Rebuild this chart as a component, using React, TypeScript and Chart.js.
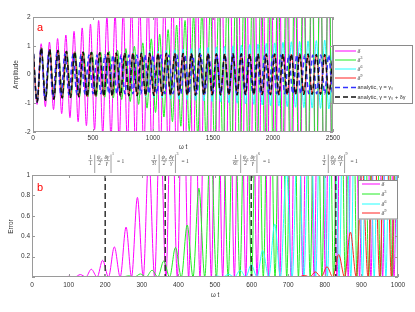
import React, { useEffect, useRef } from 'react';
import { Chart, registerables } from 'chart.js';

Chart.register(...registerables);

// ================= Panel a : amplitude vs ωt (extrema) =================
// times of successive extrema (ωt)
const T_A = [0, 35, 69, 104, 139, 174, 208, 243, 278, 312, 347, 382, 417, 451, 486, 521, 556, 590, 625, 660, 694, 729, 764, 799, 833, 868, 903, 938, 972, 1007, 1042, 1076, 1111, 1146, 1181, 1215, 1250, 1285, 1319, 1354, 1389, 1424, 1458, 1493, 1528, 1563, 1597, 1632, 1667, 1701, 1736, 1771, 1806, 1840, 1875, 1910, 1944, 1979, 2014, 2049, 2083, 2118, 2153, 2188, 2222, 2257, 2292, 2326, 2361, 2396, 2431, 2465, 2500];
const T_G = [0, 35, 70, 106, 141, 176, 211, 246, 282, 317, 352, 387, 422, 458, 493, 528, 563, 598, 634, 669, 704, 739, 774, 810, 845, 880, 915, 950, 986, 1021, 1056, 1091, 1126, 1162, 1197, 1232, 1267, 1302, 1338, 1373, 1408, 1443, 1478, 1514, 1549, 1584, 1619, 1654, 1690, 1725, 1760, 1795, 1830, 1866, 1901, 1936, 1971, 2006, 2042, 2077, 2112, 2147, 2182, 2218, 2253, 2288, 2323, 2358, 2394, 2429, 2464, 2499, 2534];
const T_M = [0, 34, 68, 103, 137, 171, 205, 239, 274, 308, 342, 376, 410, 445, 479, 513, 547, 581, 616, 650, 684, 718, 752, 787, 821, 855, 889, 923, 958, 992, 1026, 1060, 1094, 1129, 1163, 1197, 1231, 1265, 1300, 1334, 1368, 1402, 1436, 1471, 1505, 1539, 1573, 1607, 1642, 1676, 1710, 1744, 1778, 1813, 1847, 1881, 1915, 1949, 1984, 2018, 2052, 2086, 2120, 2155, 2189, 2223, 2257, 2291, 2326, 2360, 2394, 2428, 2462, 2497, 2531];
const T_B = [0, 33, 67, 100, 133, 167, 200, 233, 266, 300, 333, 366, 400, 433, 466, 500, 533, 566, 599, 633, 666, 699, 733, 766, 799, 833, 866, 899, 932, 966, 999, 1032, 1066, 1099, 1132, 1166, 1199, 1232, 1265, 1299, 1332, 1365, 1399, 1432, 1465, 1499, 1532, 1565, 1598, 1632, 1665, 1698, 1732, 1765, 1798, 1832, 1865, 1898, 1931, 1965, 1998, 2031, 2065, 2098, 2131, 2165, 2198, 2231, 2264, 2298, 2331, 2364, 2398, 2431, 2464, 2498, 2531];

// analytic, γ = γ0 + δγ (black dashed)
const ANALYTIC2_A = [1.0, -0.96, 0.93, -0.9, 0.88, -0.86, 0.84, -0.82, 0.81, -0.8, 0.79, -0.78, 0.78, -0.77, 0.77, -0.76, 0.76, -0.75, 0.76, -0.75, 0.75, -0.74, 0.75, -0.74, 0.75, -0.74, 0.74, -0.73, 0.74, -0.73, 0.74, -0.73, 0.74, -0.72, 0.73, -0.72, 0.73, -0.72, 0.73, -0.72, 0.73, -0.71, 0.73, -0.71, 0.72, -0.71, 0.72, -0.71, 0.72, -0.71, 0.72, -0.7, 0.72, -0.7, 0.72, -0.7, 0.71, -0.7, 0.71, -0.7, 0.71, -0.7, 0.71, -0.69, 0.71, -0.69, 0.71, -0.69, 0.7, -0.69, 0.7, -0.69, 0.7];
// analytic, γ = γ0 (blue dashed)
const ANALYTIC1_A = [1.0, -0.95, 0.9, -0.86, 0.82, -0.79, 0.76, -0.74, 0.72, -0.71, 0.7, -0.69, 0.69, -0.68, 0.68, -0.67, 0.68, -0.67, 0.68, -0.67, 0.68, -0.67, 0.68, -0.67, 0.68, -0.67, 0.68, -0.67, 0.68, -0.67, 0.68, -0.67, 0.68, -0.67, 0.68, -0.67, 0.68, -0.67, 0.68, -0.67, 0.68, -0.67, 0.68, -0.67, 0.68, -0.67, 0.68, -0.67, 0.68, -0.67, 0.68, -0.67, 0.68, -0.67, 0.68, -0.67, 0.68, -0.67, 0.68, -0.67, 0.68, -0.67, 0.68, -0.67, 0.68, -0.67, 0.68, -0.67, 0.68, -0.67, 0.68, -0.67, 0.68, -0.67, 0.68, -0.67, 0.68];
// δ^9 (red) — indistinguishable from the analytic curve over the range
const DELTA9_A = [1.0, -0.96, 0.93, -0.9, 0.88, -0.86, 0.84, -0.82, 0.81, -0.8, 0.79, -0.78, 0.78, -0.77, 0.77, -0.76, 0.76, -0.75, 0.76, -0.75, 0.75, -0.74, 0.75, -0.74, 0.75, -0.74, 0.74, -0.73, 0.74, -0.73, 0.74, -0.73, 0.74, -0.72, 0.73, -0.72, 0.73, -0.72, 0.73, -0.72, 0.73, -0.71, 0.73, -0.71, 0.72, -0.71, 0.72, -0.71, 0.72, -0.71, 0.72, -0.7, 0.72, -0.7, 0.72, -0.7, 0.71, -0.7, 0.71, -0.7, 0.71, -0.7, 0.71, -0.69, 0.71, -0.69, 0.71, -0.69, 0.7, -0.69, 0.7, -0.69, 0.7];
// δ^6 (cyan)
const DELTA6_A = [1.0, -0.96, 0.93, -0.9, 0.88, -0.86, 0.84, -0.82, 0.81, -0.8, 0.79, -0.78, 0.78, -0.77, 0.77, -0.76, 0.76, -0.75, 0.76, -0.75, 0.75, -0.74, 0.76, -0.75, 0.77, -0.76, 0.78, -0.78, 0.8, -0.8, 0.82, -0.82, 0.84, -0.84, 0.86, -0.86, 0.88, -0.88, 0.9, -0.9, 0.92, -0.92, 0.94, -0.94, 0.96, -0.96, 0.98, -0.98, 1.0, -1.0, 1.02, -1.02, 1.04, -1.04, 1.06, -1.06, 1.08, -1.08, 1.1, -1.1, 1.12, -1.12, 1.14, -1.14, 1.15, -1.15, 1.17, -1.17, 1.18, -1.18, 1.2, -1.2, 1.21];
// δ^3 (green)
const DELTA3_A = [1.0, -0.96, 0.93, -0.9, 0.88, -0.86, 0.84, -0.82, 0.81, -0.8, 0.79, -0.78, 0.78, -0.77, 0.77, -0.77, 0.78, -0.79, 0.8, -0.82, 0.84, -0.87, 0.9, -0.94, 0.98, -1.04, 1.1, -1.17, 1.24, -1.32, 1.4, -1.48, 1.56, -1.64, 1.72, -1.8, 1.88, -1.96, 2.05, -2.15, 2.25, -2.35, 2.45, -2.55, 2.65, -2.75, 2.85, -2.95, 3.05, -3.15, 3.25, -3.35, 3.45, -3.55, 3.65, -3.75, 3.85, -3.95, 4.05, -4.15, 4.25, -4.35, 4.45, -4.55, 4.65, -4.75, 4.85, -4.95, 5.05, -5.15, 5.25, -5.35, 5.45];
// δ (magenta)
const DELTA1_A = [1.0, -1.04, 1.07, -1.12, 1.13, -1.22, 1.25, -1.36, 1.37, -1.5, 1.5, -1.64, 1.62, -1.78, 1.75, -1.92, 1.88, -2.06, 2.0, -2.2, 2.12, -2.34, 2.25, -2.48, 2.38, -2.62, 2.5, -2.76, 2.62, -2.9, 2.75, -3.04, 2.88, -3.18, 3.0, -3.32, 3.12, -3.46, 3.25, -3.6, 3.38, -3.74, 3.5, -3.88, 3.62, -4.0, 3.75, -4.12, 3.88, -4.24, 4.0, -4.36, 4.1, -4.48, 4.2, -4.6, 4.3, -4.7, 4.4, -4.8, 4.5, -4.9, 4.6, -5.0, 4.7, -5.1, 4.8, -5.2, 4.9, -5.3, 5.0, -5.4, 5.1, -5.5, 5.2];

const A_X_TICKS = [0, 500, 1000, 1500, 2000, 2500];
const A_X_LABELS = ['0', '500', '1000', '1500', '2000', '2500'];
const A_Y_TICKS = [-2, -1, 0, 1, 2];
const A_Y_LABELS = ['-2', '-1', '0', '1', '2'];
const A_LEGEND = ['δ^', 'δ^3', 'δ^6', 'δ^9', 'analytic, γ = γ₀', 'analytic, γ = γ₀ + δγ'];

// ================= Panel b : error vs ωt =================
const ERR1_T = [0, 55, 70, 86, 101, 117, 132, 147, 162, 178, 193, 209, 225, 241, 257, 272, 288, 304, 319, 335, 350, 366, 381, 397, 412, 428, 443, 459, 474, 490, 505, 521, 537, 553, 568, 584, 599, 615, 630, 646, 661, 677, 692, 708, 724, 740, 755, 771, 786, 802, 817, 833, 848, 864, 879, 895, 910, 926, 942, 958, 973, 989, 1004];
const ERR1_V = [0, 0, 0.002, 0, 0.007, 0, 0.024, 0, 0.076, 0, 0.164, 0, 0.295, 0, 0.49, 0, 0.78, 0, 1.2, 0, 1.6, 0, 2.0, 0, 2.3, 0, 2.6, 0, 2.8, 0, 3.0, 0, 3.2, 0, 3.3, 0, 3.4, 0, 3.5, 0, 3.6, 0, 3.7, 0, 3.8, 0, 3.9, 0, 4.0, 0, 4.0, 0, 4.1, 0, 4.1, 0, 4.2, 0, 4.2, 0, 4.3, 0, 4.3];
const ERR3_T = [0, 184, 200, 216, 232, 248, 264, 280, 296, 312, 328, 344, 360, 376, 392, 408, 424, 440, 456, 472, 488, 504, 520, 536, 552, 568, 584, 600, 616, 632, 648, 664, 680, 696, 712, 728, 744, 760, 776, 792, 808, 824, 840, 856, 872, 888, 904, 920, 936, 952, 968, 984, 1000];
const ERR3_V = [0, 0, 0.002, 0, 0.005, 0, 0.012, 0, 0.03, 0, 0.066, 0, 0.157, 0, 0.29, 0, 0.51, 0, 0.87, 0, 1.4, 0, 1.9, 0, 2.3, 0, 2.6, 0, 2.9, 0, 3.1, 0, 3.3, 0, 3.4, 0, 3.5, 0, 3.6, 0, 3.7, 0, 3.8, 0, 3.9, 0, 4.0, 0, 4.0, 0, 4.1, 0, 4.1];
const ERR6_T = [0, 457, 473, 489, 505, 521, 537, 553, 569, 584, 599, 615, 630, 647, 663, 679, 695, 711, 727, 743, 759, 775, 791, 807, 823, 839, 855, 871, 887, 903, 919, 935, 951, 967, 983, 999];
const ERR6_V = [0, 0, 0.004, 0, 0.01, 0, 0.026, 0, 0.066, 0, 0.12, 0, 0.26, 0, 0.52, 0, 1.05, 0, 1.6, 0, 2.1, 0, 2.5, 0, 2.8, 0, 3.0, 0, 3.2, 0, 3.3, 0, 3.4, 0, 3.5, 0];
const ERR9_T = [0, 696, 712, 728, 744, 759, 774, 790, 806, 822, 838, 854, 870, 886, 902, 918, 934, 950, 966, 982, 998, 1014];
const ERR9_V = [0, 0, 0.005, 0, 0.016, 0, 0.05, 0, 0.1, 0, 0.22, 0, 0.44, 0, 1.1, 0, 1.7, 0, 2.2, 0, 2.6, 0];

// ωt where (1/n!)|ψ0 δγ/(2γ)|^n = 1
const THRESH_X = [200, 364, 599, 830];
const THRESH_DEN = ['1', '3!', '6!', '2'];
const THRESH_PSI_DEN = ['2', '2', '2', '9!'];
const THRESH_EXP = ['1', '3', '6', '9'];

const B_X_TICKS = [0, 100, 200, 300, 400, 500, 600, 700, 800, 900, 1000];
const B_X_LABELS = ['0', '100', '200', '300', '400', '500', '600', '700', '800', '900', '1000'];
const B_Y_TICKS = [0, 0.2, 0.4, 0.6, 0.8, 1];
const B_Y_LABELS = ['', '0.2', '0.4', '0.6', '0.8', '1'];
const B_LEGEND = ['δ^', 'δ^3', 'δ^6', 'δ^9'];

// ================= styling =================
const SANS = '"Liberation Sans", Arial, Helvetica, sans-serif';
const SERIF = '"Liberation Serif", "DejaVu Serif", "Times New Roman", serif';
const AXIS = '#9a9a9a';
const TXT = '#333333';
const C_MAG = '#ff00ff';
const C_GREEN = '#22ee22';
const C_CYAN = '#22ffff';
const C_RED = '#ff2222';
const C_BLUE = '#3333ff';
const C_BLACK = '#111111';

function series(label: string, t: number[], v: number[], color: string, order: number, dash: number[] = [], width = 1) {
  return {
    label,
    data: t.map((x, i) => ({ x, y: v[i] })),
    borderColor: color,
    backgroundColor: color,
    borderWidth: width,
    borderDash: dash,
    pointRadius: 0,
    pointHoverRadius: 0,
    fill: false,
    cubicInterpolationMode: 'monotone',
    capBezierPoints: false,
    clip: 0,
    order,
  };
}

function drawFrame(chart: any, tickLen: number) {
  const { ctx, chartArea: a, scales } = chart;
  const xs = scales.x, ys = scales.y;
  ctx.save();
  ctx.strokeStyle = AXIS;
  ctx.lineWidth = 1;
  ctx.setLineDash([]);
  ctx.beginPath();
  xs.ticks.forEach((t: any) => {
    const px = Math.round(xs.getPixelForValue(t.value)) + 0.5;
    ctx.moveTo(px, a.bottom); ctx.lineTo(px, a.bottom - tickLen);
    ctx.moveTo(px, a.top); ctx.lineTo(px, a.top + tickLen);
  });
  ys.ticks.forEach((t: any) => {
    const py = Math.round(ys.getPixelForValue(t.value)) + 0.5;
    ctx.moveTo(a.left, py); ctx.lineTo(a.left + tickLen, py);
    ctx.moveTo(a.right, py); ctx.lineTo(a.right - tickLen, py);
  });
  ctx.stroke();
  ctx.strokeRect(a.left + 0.5, a.top + 0.5, a.right - a.left - 1, a.bottom - a.top - 1);
  ctx.restore();
}

function drawTitles(ctx: CanvasRenderingContext2D, xt: [number, number], yt: [number, number], yLabel: string) {
  ctx.save();
  ctx.fillStyle = TXT;
  ctx.font = `6.5px ${SANS}`;
  ctx.textAlign = 'center';
  ctx.textBaseline = 'middle';
  ctx.fillText('ω t', xt[0], xt[1]);
  ctx.translate(yt[0], yt[1]);
  ctx.rotate(-Math.PI / 2);
  ctx.fillText(yLabel, 0, 0);
  ctx.restore();
}

function drawPanelLetter(ctx: CanvasRenderingContext2D, s: string, x: number, y: number) {
  ctx.save();
  ctx.fillStyle = '#ff0000';
  ctx.font = `11px ${SANS}`;
  ctx.textAlign = 'center';
  ctx.textBaseline = 'middle';
  ctx.fillText(s, x, y);
  ctx.restore();
}

function drawLabel(ctx: CanvasRenderingContext2D, label: string, x: number, y: number, size: number) {
  ctx.textAlign = 'left';
  ctx.textBaseline = 'middle';
  if (label.startsWith('δ^')) {
    ctx.font = `italic ${size}px ${SERIF}`;
    ctx.fillText('δ', x, y);
    const sup = label.slice(2);
    if (sup) {
      const w = ctx.measureText('δ').width;
      ctx.font = `${size * 0.65}px ${SERIF}`;
      ctx.fillText(sup, x + w + 0.3, y - size * 0.38);
    }
  } else {
    ctx.font = `${size * 0.92}px ${SANS}`;
    ctx.fillText(label, x, y);
  }
}

function drawLegend(chart: any, labels: string[], box: number[], rows: number[], lx: number[], tx: number, size: number) {
  const { ctx } = chart;
  const metas = labels.map((_, i) => chart.data.datasets.find((d: any) => d.label === labels[i]));
  ctx.save();
  ctx.fillStyle = '#ffffff';
  ctx.fillRect(box[0], box[1], box[2], box[3]);
  ctx.strokeStyle = '#8a8a8a';
  ctx.lineWidth = 1;
  ctx.strokeRect(box[0] + 0.5, box[1] + 0.5, box[2] - 1, box[3] - 1);
  labels.forEach((lab, i) => {
    const ds = metas[i];
    const y = rows[i];
    ctx.strokeStyle = ds.borderColor;
    ctx.lineWidth = ds.borderWidth;
    ctx.setLineDash(ds.borderDash || []);
    ctx.beginPath();
    ctx.moveTo(lx[0], y);
    ctx.lineTo(lx[1], y);
    ctx.stroke();
    ctx.setLineDash([]);
    ctx.fillStyle = TXT;
    drawLabel(ctx, lab, tx, y, size);
  });
  ctx.restore();
}

function drawFormula(ctx: CanvasRenderingContext2D, cx: number, den1: string, den2: string, exp: string) {
  const main = `5.5px ${SERIF}`;
  const ital = `italic 5.5px ${SERIF}`;
  const small = `4px ${SERIF}`;
  ctx.save();
  ctx.fillStyle = '#444';
  ctx.strokeStyle = '#555';
  ctx.textAlign = 'center';
  ctx.textBaseline = 'middle';
  ctx.font = main;
  const w1 = Math.max(ctx.measureText('1').width, ctx.measureText(den1).width) + 2;
  const w2 = Math.max(ctx.measureText('ψ₀').width, ctx.measureText(den2).width) + 1.2;
  const w3 = Math.max(ctx.measureText('δγ').width, ctx.measureText('γ').width) + 1.2;
  const weq = ctx.measureText('= 1').width;
  ctx.font = small;
  const we = ctx.measureText(exp).width;
  const total = w1 + 3.5 + w2 + 0.8 + w3 + 2 + we + 3 + weq;
  let x = cx - total / 2;
  const yNum = 8, yBar = 10.6, yDen = 13.8, bTop = 4.5, bBot = 23;
  ctx.lineWidth = 0.5;
  const frac = (n: string, d: string, w: number, italic: boolean) => {
    ctx.font = italic ? ital : main;
    ctx.fillText(n, x + w / 2, yNum);
    ctx.fillText(d, x + w / 2, yDen);
    ctx.beginPath();
    ctx.moveTo(x + 0.3, yBar);
    ctx.lineTo(x + w - 0.3, yBar);
    ctx.stroke();
    x += w;
  };
  const bar = () => {
    ctx.save();
    ctx.strokeStyle = '#888';
    ctx.lineWidth = 0.8;
    ctx.beginPath();
    ctx.moveTo(x, bTop);
    ctx.lineTo(x, bBot);
    ctx.stroke();
    ctx.restore();
  };
  frac('1', den1, w1, false);
  x += 1.8; bar(); x += 1.7;
  frac('ψ₀', den2, w2, true);
  x += 0.8;
  frac('δγ', 'γ', w3, true);
  x += 1; bar(); x += 1;
  ctx.font = small;
  ctx.textAlign = 'left';
  ctx.fillText(exp, x, 3.5);
  x += we + 3;
  ctx.font = main;
  ctx.fillText('= 1', x, 12);
  ctx.restore();
}

function axisOpts(ticksArr: number[], labels: string[], pad: number, fit: (s: any) => void, extra: any) {
  return {
    ...extra,
    afterBuildTicks: (s: any) => { s.ticks = ticksArr.map((v) => ({ value: v })); },
    afterFit: fit,
    ticks: {
      font: { family: SANS, size: 6.5 },
      color: TXT,
      padding: pad,
      maxRotation: 0,
      minRotation: 0,
      autoSkip: false,
      callback: (_v: any, i: number) => labels[i],
    },
    grid: { display: false, drawTicks: false },
    border: { display: false },
  };
}

function configA(): any {
  const plug = {
    id: 'panelA',
    afterDraw(chart: any) {
      const { ctx } = chart;
      drawFrame(chart, 3);
      drawTitles(ctx, [183, 147], [16, 74.5], 'Amplitude');
      drawPanelLetter(ctx, 'a', 40, 28);
      drawLegend(chart, A_LEGEND, [333, 45, 80, 59], [51, 60, 69, 78, 87.5, 97], [335, 356], 357.5, 6);
    },
  };
  return {
    type: 'line',
    data: {
      datasets: [
        series('analytic, γ = γ₀ + δγ', T_A, ANALYTIC2_A, C_BLACK, 0, [5, 3], 1.5),
        series('analytic, γ = γ₀', T_B, ANALYTIC1_A, C_BLUE, 1, [5, 3], 1.5),
        series('δ^9', T_A, DELTA9_A, C_RED, 2),
        series('δ^6', T_A, DELTA6_A, C_CYAN, 3),
        series('δ^3', T_G, DELTA3_A, C_GREEN, 4),
        series('δ^', T_M, DELTA1_A, C_MAG, 5),
      ],
    },
    options: {
      responsive: false,
      animation: false,
      devicePixelRatio: 1,
      events: [],
      layout: { padding: { left: 0, right: 82, top: 17, bottom: 0 } },
      elements: { line: { capBezierPoints: false } },
      plugins: { legend: { display: false }, tooltip: { enabled: false } },
      scales: {
        x: axisOpts(A_X_TICKS, A_X_LABELS, 2.2, (s) => { s.height = 18; }, { type: 'linear', min: 0, max: 2500 }),
        y: axisOpts(A_Y_TICKS, A_Y_LABELS, 2.5, (s) => { s.width = 33; }, { type: 'linear', min: -2, max: 2 }),
      },
    },
    plugins: [plug],
  };
}

const FORMULA_SHIFT = [1, 4.5, 0, 4];

function configB(): any {
  const plug = {
    id: 'panelB',
    afterDatasetsDraw(chart: any) {
      const { ctx, chartArea: a, scales } = chart;
      ctx.save();
      ctx.strokeStyle = '#333';
      ctx.lineWidth = 1.5;
      ctx.setLineDash([6, 3]);
      THRESH_X.forEach((v) => {
        const px = scales.x.getPixelForValue(v);
        ctx.beginPath();
        ctx.moveTo(px, a.top);
        ctx.lineTo(px, a.bottom);
        ctx.stroke();
      });
      ctx.restore();
    },
    afterDraw(chart: any) {
      const { ctx, scales } = chart;
      drawFrame(chart, 3);
      drawTitles(ctx, [215, 145], [11.5, 76.5], 'Error');
      drawPanelLetter(ctx, 'b', 40, 38);
      drawLegend(chart, B_LEGEND, [358, 30, 40, 39.5], [34, 44, 54, 63], [362, 380], 381.5, 6);
      THRESH_X.forEach((v, i) => {
        drawFormula(ctx, scales.x.getPixelForValue(v) + FORMULA_SHIFT[i], THRESH_DEN[i], THRESH_PSI_DEN[i], THRESH_EXP[i]);
      });
    },
  };
  return {
    type: 'line',
    data: {
      datasets: [
        series('δ^9', ERR9_T, ERR9_V, C_RED, 0),
        series('δ^6', ERR6_T, ERR6_V, C_CYAN, 1),
        series('δ^3', ERR3_T, ERR3_V, C_GREEN, 2),
        series('δ^', ERR1_T, ERR1_V, C_MAG, 3),
      ],
    },
    options: {
      responsive: false,
      animation: false,
      devicePixelRatio: 1,
      events: [],
      layout: { padding: { left: 0, right: 17, top: 25, bottom: 0 } },
      elements: { line: { capBezierPoints: false } },
      plugins: { legend: { display: false }, tooltip: { enabled: false } },
      scales: {
        x: axisOpts(B_X_TICKS, B_X_LABELS, 4, (s) => { s.height = 35; }, { type: 'linear', min: 0, max: 1000 }),
        y: axisOpts(B_Y_TICKS, B_Y_LABELS, 2, (s) => { s.width = 32; }, { type: 'linear', min: 0, max: 1 }),
      },
    },
    plugins: [plug],
  };
}

export default function App() {
  const refA = useRef<HTMLCanvasElement>(null);
  const refB = useRef<HTMLCanvasElement>(null);
  useEffect(() => {
    const ca = new Chart(refA.current as HTMLCanvasElement, configA());
    const cb = new Chart(refB.current as HTMLCanvasElement, configB());
    return () => {
      ca.destroy();
      cb.destroy();
    };
  }, []);
  return (
    <div style={{ position: 'fixed', left: 0, top: 0, width: 415, height: 312, background: '#ffffff' }}>
      <canvas ref={refA} width={415} height={150} style={{ position: 'absolute', left: 0, top: 0, width: 415, height: 150 }} />
      <canvas ref={refB} width={415} height={162} style={{ position: 'absolute', left: 0, top: 150, width: 415, height: 162 }} />
    </div>
  );
}
